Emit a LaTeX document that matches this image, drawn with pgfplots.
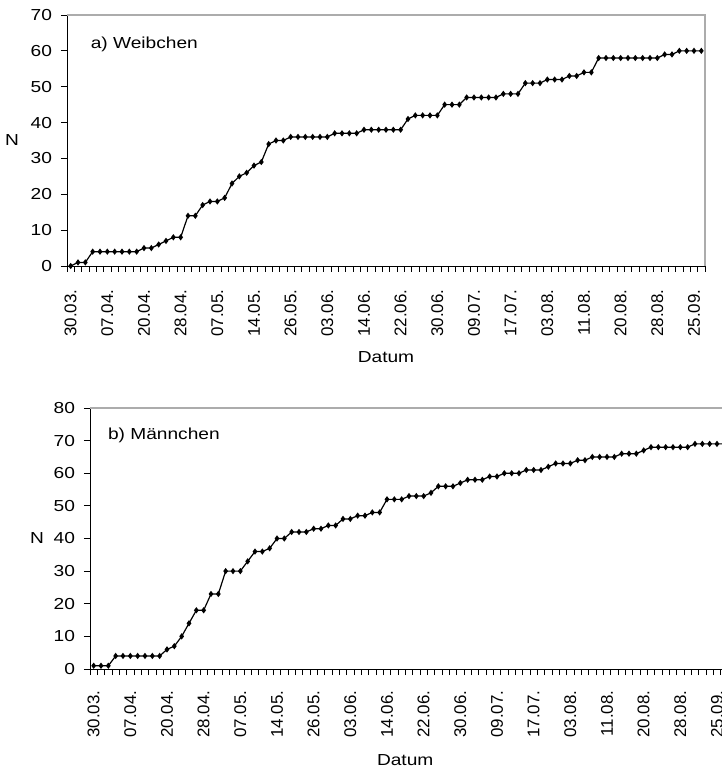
\documentclass[border=0pt]{standalone}
\usepackage{pgfplots}
\pgfplotsset{compat=1.18}
\usepackage{fontspec}
\setmainfont{Liberation Sans}
\newfontfamily\wide{Liberation Sans}[FakeStretch=1.2]
\pgfplotstableread{
i a
0 0
1 1
2 1
3 4
4 4
5 4
6 4
7 4
8 4
9 4
10 5
11 5
12 6
13 7
14 8
15 8
16 14
17 14
18 17
19 18
20 18
21 19
22 23
23 25
24 26
25 28
26 29
27 34
28 35
29 35
30 36
31 36
32 36
33 36
34 36
35 36
36 37
37 37
38 37
39 37
40 38
41 38
42 38
43 38
44 38
45 38
46 41
47 42
48 42
49 42
50 42
51 45
52 45
53 45
54 47
55 47
56 47
57 47
58 47
59 48
60 48
61 48
62 51
63 51
64 51
65 52
66 52
67 52
68 53
69 53
70 54
71 54
72 58
73 58
74 58
75 58
76 58
77 58
78 58
79 58
80 58
81 59
82 59
83 60
84 60
85 60
86 60
}\weib
\pgfplotstableread{
i b
0 1
1 1
2 1
3 4
4 4
5 4
6 4
7 4
8 4
9 4
10 6
11 7
12 10
13 14
14 18
15 18
16 23
17 23
18 30
19 30
20 30
21 33
22 36
23 36
24 37
25 40
26 40
27 42
28 42
29 42
30 43
31 43
32 44
33 44
34 46
35 46
36 47
37 47
38 48
39 48
40 52
41 52
42 52
43 53
44 53
45 53
46 54
47 56
48 56
49 56
50 57
51 58
52 58
53 58
54 59
55 59
56 60
57 60
58 60
59 61
60 61
61 61
62 62
63 63
64 63
65 63
66 64
67 64
68 65
69 65
70 65
71 65
72 66
73 66
74 66
75 67
76 68
77 68
78 68
79 68
80 68
81 68
82 69
83 69
84 69
85 69
86 69
}\mann
\begin{document}
\fontsize{16}{19}\selectfont
\begin{tikzpicture}
\useasboundingbox (0bp,0bp) rectangle (722bp,769bp);
\pgfplotsset{
  myaxis/.style={
    scale only axis, width=638bp, xmin=-0.5, xmax=86.5, ymin=0,
    axis x line*=bottom, axis y line*=left,
    axis line style={black, line width=0.9bp, -},
    xtick={0,5,...,85},
    xticklabels={30.03.,07.04.,20.04.,28.04.,07.05.,14.05.,26.05.,03.06.,14.06.,22.06.,30.06.,09.07.,17.07.,03.08.,11.08.,20.08.,28.08.,25.09.},
    minor xtick={-0.5,0.5,...,86.5},
    major x tick style={draw=none},
    major tick length=6bp, minor tick length=6bp,
    tick align=outside,
    tick style={black, line width=0.8bp},
    xticklabel style={rotate=90, anchor=east, font=\fontsize{17}{20}\selectfont},
    yticklabel style={font=\wide\fontsize{16}{19}\selectfont, xshift=-3.5bp},
    /pgf/number format/assume math mode=true,
    label style={font=\wide\fontsize{16}{19}\selectfont},
    clip=false,
  },
  myline/.style={black, line width=1.2bp, mark=diamond*, mark size=2.2bp, mark options={solid, fill=black}},
}
\begin{axis}[myaxis, at={(67bp,503bp)}, anchor=south west, height=251bp,
  ymax=70, ytick={0,10,...,70}, xticklabel shift=12bp,
  xlabel={Datum}, xlabel style={at={(axis description cs:0.5,-0.363)}, anchor=center},
  ylabel={N}, ylabel style={rotate=-90, at={(axis description cs:-0.086,0.502)}, anchor=center}]
\addplot[myline] table[x=i, y=a] {\weib};
\draw[gray!65, line width=1.5bp] (rel axis cs:0,1) -- (rel axis cs:1,1) -- (rel axis cs:1,0);
\node[anchor=west, inner sep=0pt, font=\wide\fontsize{16}{19}\selectfont] at (rel axis cs:0.037,0.884) {a) Weibchen};
\end{axis}
\begin{axis}[myaxis, at={(90bp,100bp)}, anchor=south west, height=261bp,
  ymax=80, ytick={0,10,...,80}, xticklabel shift=10bp,
  xlabel={Datum}, xlabel style={at={(axis description cs:0.494,-0.349)}, anchor=center},
  ylabel={N}, ylabel style={rotate=-90, at={(axis description cs:-0.083,0.502)}, anchor=center}]
\addplot[myline] table[x=i, y=b] {\mann};
\draw[gray!65, line width=1.5bp] (rel axis cs:0,1) -- (rel axis cs:1,1) -- (rel axis cs:1,0);
\node[anchor=west, inner sep=0pt, font=\wide\fontsize{16}{19}\selectfont] at (rel axis cs:0.028,0.897) {b) Männchen};
\end{axis}
\end{tikzpicture}
\end{document}
